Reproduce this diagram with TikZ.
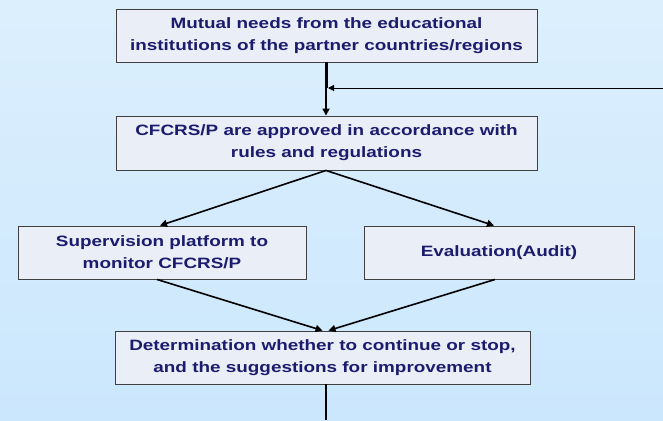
\documentclass[tikz,border=0pt]{standalone}
\usepackage{fontspec}
\setmainfont{Liberation Sans}
\newfontfamily\stagefont[FakeStretch=1.26]{Liberation Sans}
\usepackage{xcolor}
\definecolor{flowbg}{HTML}{DCEFFD}
\definecolor{flowbgb}{HTML}{CBE7FD}
\definecolor{flowbox}{HTML}{E9EEF7}
\definecolor{flowtxt}{HTML}{1C1C6E}
\usepackage{tikz}
\usetikzlibrary{arrows.meta,positioning,calc}

\begin{document}
\begin{tikzpicture}[x=1pt,y=-1pt,
  stagebox/.style={draw=black!75,line width=0.9pt,fill=flowbox,text=flowtxt,
    font=\stagefont\bfseries\fontsize{15}{22}\selectfont,align=center,inner sep=0pt},
  flow/.style={line width=1.6pt,-{Triangle[length=7pt,width=7pt]}},
  thinflow/.style={line width=1pt,-{Triangle[length=6pt,width=6pt]}}]
% background
\shade[top color=flowbg,bottom color=flowbgb] (0,0) rectangle (663,420);
\useasboundingbox (0,0) rectangle (663,420);

\node[stagebox,minimum width=421pt,minimum height=53pt] (needs) at (326.5,35.5)
  {Mutual needs from the educational\\institutions of the partner countries/regions};
\node[stagebox,minimum width=421pt,minimum height=54pt] (approve) at (326.5,143)
  {CFCRS/P are approved in accordance with\\rules and regulations};
\node[stagebox,minimum width=288pt,minimum height=53pt] (monitor) at (162,252.5)
  {Supervision platform to\\monitor CFCRS/P};
\node[stagebox,minimum width=270pt,minimum height=53pt] (audit) at (499,252.5)
  {Evaluation(Audit)};
\node[stagebox,minimum width=415pt,minimum height=53pt] (decide) at (322.5,357.5)
  {Determination whether to continue or stop,\\and the suggestions for improvement};

% feedback loop and exit
\coordinate (loopin) at (663,88);
\coordinate (loopend) at (326,88);
\coordinate (exit) at (326,420);

\draw[line width=3pt] (needs.south -| loopend) -- (loopend);
\draw[flow] (loopend) -- (approve.north -| loopend);
\draw[thinflow] (loopin) -- ($(loopend)+(2,0)$);
\draw[flow] ($(approve.south)+(-0.5,0)$) -- ($(monitor.north)+(-2,0)$);
\draw[flow] ($(approve.south)+(-0.5,0)$) -- ($(audit.north)+(-5,0)$);
\draw[flow] ($(monitor.south)+(-5,0)$) -- (decide.north);
\draw[flow] ($(audit.south)+(-4,0)$) -- ($(decide.north)+(6,0)$);
\draw[line width=1.2pt] (decide.south -| exit) -- (exit);
\end{tikzpicture}
\end{document}
